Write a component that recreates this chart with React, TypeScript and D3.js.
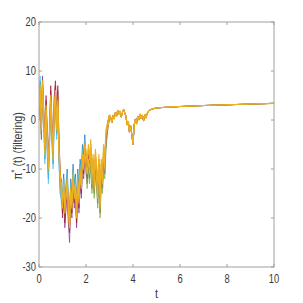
import { useEffect, useRef } from 'react';
import * as d3 from 'd3';

// early, noisy part of each run: t = 0 .. 3.0, step 0.05
const runs: number[][] = [
  [3,8,-4,7,-1,-8,1,-6,-12,-5,3,-4,-9,1,4,-3,2,-8,-15,-16,-15,-11,-17,-13,-10,-16,-19,-12,-15,-9,-13,-11,-17,-10,-14,-8,-11,-5,-7,-3,-9,-12,-8,-11,-7,-13,-10,-14,-9,-12,-16,-10,-18,-11,-13,-8,-10,-4,-2,0,1],
  [1,5,0,9,2,-5,4,-3,-9,-1,6,-1,-6,4,7,0,6,-5,-11,-13,-19,-16,-22,-17,-15,-21,-25,-17,-20,-14,-18,-16,-22,-15,-19,-13,-16,-10,-12,-8,-10,-13,-9,-12,-8,-14,-11,-15,-10,-13,-17,-11,-19,-12,-14,-9,-11,-5,-3,-1,0],
  [2,7,-3,6,3,-7,2,-5,-11,-2,4,-3,-8,2,5,-2,4,-7,-13,-12,-18,-12,-20,-14,-13,-19,-22,-13,-18,-10,-16,-12,-20,-11,-17,-9,-14,-6,-10,-4,-11,-14,-10,-13,-9,-15,-12,-16,-11,-14,-18,-12,-20,-13,-15,-10,-12,-6,-3,-1,0],
  [4,9,-1,5,0,-9,2,-7,-13,-4,2,-5,-10,0,3,-4,1,-9,-14,-17,-16,-12,-18,-14,-11,-17,-20,-13,-16,-10,-14,-12,-18,-11,-15,-9,-12,-6,-8,-4,-8,-11,-7,-10,-6,-12,-9,-13,-8,-11,-15,-9,-17,-10,-12,-7,-9,-4,-2,0,1],
  [0,6,-2,8,1,-4,5,-2,-8,-3,7,0,-5,5,8,1,7,-4,-10,-14,-20,-15,-21,-18,-14,-20,-23,-16,-19,-13,-17,-15,-21,-14,-18,-12,-15,-9,-11,-7,-7,-10,-7,-9,-6,-11,-9,-12,-8,-10,-14,-9,-16,-10,-11,-7,-9,-4,-2,0,1],
  [2,5,-3,7,2,-6,3,-4,-10,-2,5,-2,-7,3,6,-1,5,-6,-12,-14,-16,-14,-18,-15,-12,-17,-20,-14,-16,-12,-14,-13,-18,-12,-15,-10,-12,-7,-8,-5,-7,-10,-6,-9,-5,-11,-8,-12,-7,-10,-14,-8,-16,-9,-11,-6,-8,-3,-1,0,1],
  [1,7,-1,8,0,-5,3,-3,-9,-4,5,-1,-6,2,6,0,4,-5,-11,-15,-18,-14,-17,-16,-13,-19,-22,-15,-18,-12,-16,-14,-20,-13,-17,-11,-14,-8,-10,-6,-9,-11,-8,-11,-5,-13,-8,-14,-7,-12,-16,-8,-18,-9,-13,-6,-10,-3,-2,-1,1],
  [3,6,-2,7,1,-7,2,-5,-10,-3,4,-3,-8,3,5,-2,3,-7,-12,-13,-17,-13,-19,-15,-12,-18,-21,-14,-17,-11,-15,-13,-19,-12,-16,-10,-13,-7,-9,-5,-6,-9,-5,-8,-4,-10,-7,-11,-6,-9,-13,-7,-15,-8,-10,-5,-7,-2,-1,0,1],
];
const runColors = ['#0072BD', '#7E2F8E', '#77AC30', '#4DBEEE', '#A2142F', '#D95319', '#EDB120', '#EDB120'];

// shared tail, where the runs have converged
const tailT = [3.05,3.1,3.15,3.2,3.25,3.3,3.35,3.4,3.45,3.5,3.55,3.6,3.65,3.7,3.75,3.8,3.85,3.9,3.95,4.0,4.05,4.1,4.15,4.2,4.25,4.3,4.35,4.4,4.45,4.5,4.55,4.6,4.65,4.7,4.8,4.9,5.0,5.25,5.5,6,7,8,9,10];
const tailV = [0.5,-0.5,1,0.2,1.5,0.8,2,1.2,1.8,0.6,1.5,2.2,1.4,0.8,-1,-0.3,-2.5,-1.2,-3,-5,-1,0.2,-0.8,0.8,0,1.2,0.3,1,-0.2,1.1,0.4,1.3,1.7,2.0,2.2,2.35,2.45,2.55,2.62,2.75,2.95,3.1,3.25,3.4];

const xTicks = [0, 2, 4, 6, 8, 10];
const yTicks = [-30, -20, -10, 0, 10, 20];

export default function App() {
  const ref = useRef<SVGSVGElement | null>(null);

  useEffect(() => {
    if (!ref.current) return;
    const svg = d3.select(ref.current);
    svg.selectAll('*').remove();

    const left = 39, right = 274, top = 22, bottom = 267;
    const x = d3.scaleLinear().domain([0, 10]).range([left, right]);
    const y = d3.scaleLinear().domain([-30, 20]).range([bottom, top]);
    const font = '"Liberation Sans", Arial, sans-serif';
    const gray = '#a0a0a0';
    const ink = '#3a3a3a';

    svg.append('defs').append('clipPath').attr('id', 'plot')
      .append('rect').attr('x', left).attr('y', top)
      .attr('width', right - left).attr('height', bottom - top);

    const line = d3.line<[number, number]>()
      .x(d => x(d[0]))
      .y(d => y(d[1]));

    const lines = svg.append('g').attr('clip-path', 'url(#plot)');
    runs.forEach((vals, i) => {
      const pts: [number, number][] = vals.map((v, j) => [j * 0.05, v]);
      tailT.forEach((t, j) => pts.push([t, tailV[j]]));
      const yellow = runColors[i] === '#EDB120';
      lines.append('path')
        .attr('d', line(pts))
        .attr('fill', 'none')
        .attr('stroke', runColors[i])
        .attr('stroke-width', yellow ? 1.1 : 0.8)
        .attr('stroke-opacity', yellow ? 1 : 0.85)
        .attr('stroke-linejoin', 'round');
    });

    // box + inward ticks on all sides
    const ax = svg.append('g');
    ax.append('rect')
      .attr('x', left).attr('y', top)
      .attr('width', right - left).attr('height', bottom - top)
      .attr('fill', 'none').attr('stroke', gray).attr('stroke-width', 1);

    xTicks.forEach(t => {
      ax.append('line').attr('x1', x(t)).attr('x2', x(t)).attr('y1', bottom).attr('y2', bottom - 3).attr('stroke', gray);
      ax.append('line').attr('x1', x(t)).attr('x2', x(t)).attr('y1', top).attr('y2', top + 3).attr('stroke', gray);
      ax.append('text').attr('transform', `translate(${x(t)},283) scale(0.78,1)`)
        .attr('text-anchor', 'middle').attr('font-family', font).attr('font-size', 12)
        .attr('fill', ink).text(String(t));
    });
    yTicks.forEach(t => {
      ax.append('line').attr('x1', left).attr('x2', left + 3).attr('y1', y(t)).attr('y2', y(t)).attr('stroke', gray);
      ax.append('line').attr('x1', right).attr('x2', right - 3).attr('y1', y(t)).attr('y2', y(t)).attr('stroke', gray);
      ax.append('text').attr('transform', `translate(36,${y(t)}) scale(0.78,1)`).attr('dy', '0.36em')
        .attr('text-anchor', 'end').attr('font-family', font).attr('font-size', 12)
        .attr('fill', ink).text(String(t));
    });

    svg.append('text')
      .attr('transform', `translate(${(left + right) / 2},298) scale(0.85,1)`)
      .attr('text-anchor', 'middle').attr('font-family', font).attr('font-size', 13)
      .attr('fill', ink).text('t');

    const yl = svg.append('text')
      .attr('transform', `translate(22,146) rotate(-90) scale(0.85,1)`)
      .attr('text-anchor', 'middle').attr('font-family', font).attr('font-size', 12.5)
      .attr('fill', ink);
    yl.append('tspan').text('π');
    yl.append('tspan').attr('dy', -5).attr('font-size', 9).text('*');
    yl.append('tspan').attr('dy', 5).text(' (t) (filtering)');
  }, []);

  return (
    <svg ref={ref} width={303} height={303}
      style={{ position: 'absolute', left: 0, top: 0, background: '#fff' }} />
  );
}
